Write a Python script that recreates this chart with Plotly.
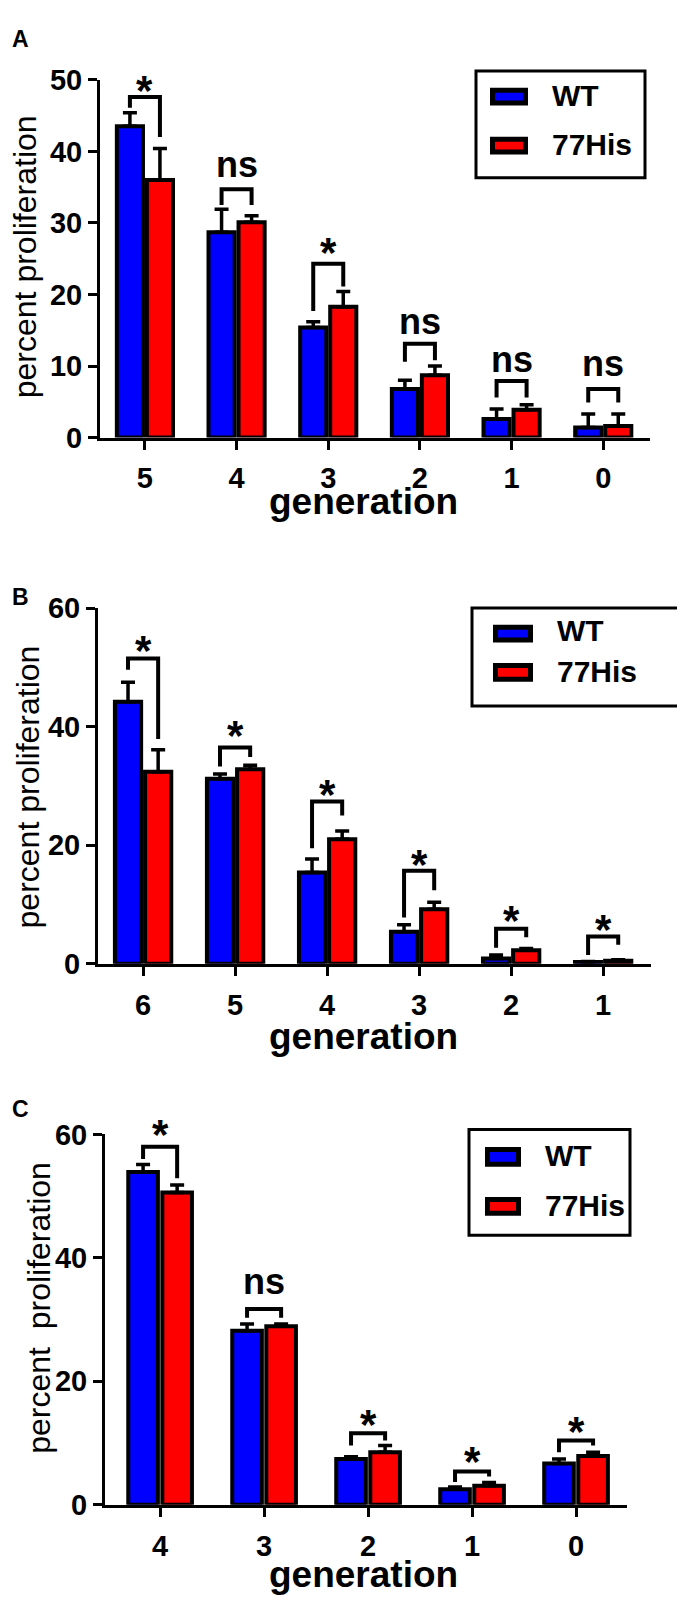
import plotly.graph_objects as go

# ---------------- data ----------------
gen_A = ["5", "4", "3", "2", "1", "0"]
wt_A = [43.5, 28.7, 15.4, 6.8, 2.6, 1.4]
wt_A_err = [1.9, 3.2, 0.8, 1.2, 1.4, 1.9]
his_A = [36.0, 30.1, 18.3, 8.7, 3.9, 1.6]
his_A_err = [4.4, 0.9, 2.1, 1.3, 0.7, 1.7]
sig_A = ["*", "ns", "*", "ns", "ns", "ns"]
brk_top_A = [47.6, 34.7, 24.3, 13.1, 7.9, 6.8]
brk_left_A = [46.1, 32.5, 17.7, 10.6, 5.6, 4.9]
brk_right_A = [42.0, 32.5, 21.1, 10.8, 5.6, 4.9]
sig_y_A = [49.8, 37.7, 27.2, 15.8, 10.4, 9.9]

gen_B = ["6", "5", "4", "3", "2", "1"]
wt_B = [44.2, 31.2, 15.4, 5.4, 0.9, 0.3]
wt_B_err = [3.3, 0.8, 2.3, 1.2, 0.6, 0.1]
his_B = [32.4, 32.8, 21.0, 9.2, 2.3, 0.5]
his_B_err = [3.7, 0.7, 1.4, 1.2, 0.3, 0.2]
sig_B = ["*", "*", "*", "*", "*", "*"]
brk_top_B = [51.5, 36.5, 27.4, 15.7, 5.9, 4.6]
brk_left_B = [49.6, 33.3, 19.5, 7.8, 2.7, 1.5]
brk_right_B = [37.9, 34.9, 25.0, 12.4, 4.5, 3.2]
sig_y_B = [54.4, 40.1, 30.2, 18.4, 8.9, 7.4]

gen_C = ["4", "3", "2", "1", "0"]
wt_C = [53.9, 28.2, 7.4, 2.5, 6.7]
wt_C_err = [1.2, 1.1, 0.4, 0.4, 0.7]
his_C = [50.6, 28.9, 8.5, 3.1, 7.9]
his_C_err = [1.2, 0.4, 1.1, 0.5, 0.6]
sig_C = ["*", "ns", "*", "*", "*"]
brk_top_C = [58.0, 31.7, 11.6, 5.4, 10.4]
brk_left_C = [56.0, 30.3, 9.6, 3.7, 8.5]
brk_right_C = [52.9, 30.3, 10.4, 4.6, 9.6]
sig_y_C = [61.6, 35.6, 14.6, 8.6, 13.5]

y_ticks_A = [0, 10, 20, 30, 40, 50]
y_ticks_BC = [0, 20, 40, 60]
series_names = ["WT", "77His"]
panel_letters = ["A", "B", "C"]

# ---------------- layout constants ----------------
W, H = 685, 1601
FONT = "Liberation Sans, Arial, sans-serif"
BLUE = "#0000FF"
RED = "#FF0000"
BARGAP = 0.345
GROUPGAP = 0.13
STAR_SIZE = 42
NS_SIZE = 36


def fx(px):
    return px / W


def fy(py):
    return 1 - py / H


panels = [
    dict(gen=gen_A, wt=wt_A, wte=wt_A_err, his=his_A, hise=his_A_err, sig=sig_A,
         top=brk_top_A, left=brk_left_A, right=brk_right_A, sy=sig_y_A,
         ymax=50, yt=y_ticks_A, xpx=(92, 642), ypx=(57, 422), xr=(-0.49, 5.51),
         letter_y=15, ytitle="percent proliferation", ytitle_x=17, ytitle_y=238,
         gen_y=487, legend=dict(box=(468, 48, 637, 157), sw_x=(482, 520),
                                sw_y=[(65, 83), (115, 133)], tx=542, ty=[73, 123])),
    dict(gen=gen_B, wt=wt_B, wte=wt_B_err, his=his_B, hise=his_B_err, sig=sig_B,
         top=brk_top_B, left=brk_left_B, right=brk_right_B, sy=sig_y_B,
         ymax=60, yt=y_ticks_BC, xpx=(90, 643), ypx=(596, 959), xr=(-0.49, 5.52),
         letter_y=585, ytitle="percent proliferation", ytitle_x=20, ytitle_y=779,
         gen_y=1033, legend=dict(box=(464, 596, 683, 696), sw_x=(485, 525),
                                 sw_y=[(613, 631), (652, 671)], tx=547, ty=[619, 661])),
    dict(gen=gen_C, wt=wt_C, wte=wt_C_err, his=his_C, hise=his_C_err, sig=sig_C,
         top=brk_top_C, left=brk_left_C, right=brk_right_C, sy=sig_y_C,
         ymax=60, yt=y_ticks_BC, xpx=(97, 619), ypx=(1133, 1511), xr=(-0.53, 4.49),
         letter_y=1107, ytitle="percent\u00a0\u00a0proliferation", ytitle_x=31, ytitle_y=1310,
         gen_y=1582, legend=dict(box=(461, 1128, 622, 1236), sw_x=(477, 513),
                                 sw_y=[(1146, 1166), (1197, 1216)], tx=535, ty=[1155, 1206])),
]

fig = go.Figure()
shapes = []
annotations = []
off = (1 - BARGAP) / 4

for i, p in enumerate(panels, start=1):
    xa = "x" if i == 1 else f"x{i}"
    ya = "y" if i == 1 else f"y{i}"
    n = len(p["gen"])
    xs = list(range(n))
    for name, vals, errs, col in [(series_names[0], p["wt"], p["wte"], BLUE),
                                  (series_names[1], p["his"], p["hise"], RED)]:
        fig.add_trace(go.Bar(
            x=xs, y=vals, name=name, showlegend=False,
            marker=dict(color=col, line=dict(color="black", width=4)),
            error_y=dict(type="data", symmetric=False, array=errs,
                         arrayminus=[0] * n, color="black", thickness=3.5, width=7),
            xaxis=xa, yaxis=ya,
        ))
    axkey = "" if i == 1 else str(i)
    fig.update_layout(**{
        f"xaxis{axkey}": dict(
            domain=[fx(p["xpx"][0]), fx(p["xpx"][1])], range=list(p["xr"]),
            anchor=ya, tickvals=xs, ticktext=p["gen"], showgrid=False, zeroline=False,
            showline=True, linecolor="black", linewidth=3, ticks="outside",
            ticklen=9, tickwidth=3, tickcolor="black", ticklabelstandoff=4,
            tickfont=dict(family=FONT, size=29, color="black", weight="bold"),
            fixedrange=True),
        f"yaxis{axkey}": dict(
            domain=[fy(p["ypx"][1]), fy(p["ypx"][0])], range=[0, p["ymax"]],
            anchor=xa, tickvals=p["yt"], showgrid=False, zeroline=False,
            showline=True, linecolor="black", linewidth=3, ticks="outside",
            ticklen=9, tickwidth=3, tickcolor="black",
            tickfont=dict(family=FONT, size=29, color="black", weight="bold"),
            fixedrange=True),
    })
    # short extension of the x axis line to the left of the y axis
    shapes.append(dict(type="line", xref=f"{xa} domain", yref=ya,
                       x0=-10 / (p["xpx"][1] - p["xpx"][0]), x1=0, y0=0, y1=0,
                       line=dict(color="black", width=3)))
    # significance brackets and labels
    for k in range(n):
        xl, xr_ = k - off, k + off
        path = (f"M {xl},{p['left'][k]} L {xl},{p['top'][k]} "
                f"L {xr_},{p['top'][k]} L {xr_},{p['right'][k]}")
        shapes.append(dict(type="path", path=path, xref=xa, yref=ya,
                           line=dict(color="black", width=4)))
        is_star = p["sig"][k] == "*"
        size = STAR_SIZE if is_star else NS_SIZE
        annotations.append(dict(
            x=k, y=p["sy"][k] / p["ymax"], xref=xa, yref=f"{ya} domain",
            text=p["sig"][k], showarrow=False,
            xanchor="center", yanchor="middle",
            yshift=-0.23 * size if is_star else 0.09 * size,
            font=dict(family=FONT, size=size, color="black", weight="bold")))
    # panel letter
    annotations.append(dict(x=fx(2), y=fy(p["letter_y"]), xref="paper", yref="paper",
                            text=panel_letters[i - 1], showarrow=False,
                            xanchor="left", yanchor="middle",
                            font=dict(family=FONT, size=23, color="black", weight="bold")))
    # y title
    annotations.append(dict(x=fx(p["ytitle_x"]), y=fy(p["ytitle_y"]), xref="paper",
                            yref="paper", text=p["ytitle"], textangle=-90, showarrow=False,
                            xanchor="center", yanchor="middle",
                            font=dict(family=FONT, size=32, color="black")))
    # x title
    annotations.append(dict(x=fx(355), y=fy(p["gen_y"]), xref="paper", yref="paper",
                            text="generation", showarrow=False,
                            xanchor="center", yanchor="middle",
                            font=dict(family=FONT, size=37, color="black", weight="bold")))
    # legend (drawn box)
    lg = p["legend"]
    bx0, by0, bx1, by1 = lg["box"]
    shapes.append(dict(type="rect", xref="paper", yref="paper",
                       x0=fx(bx0), x1=fx(bx1), y0=fy(by1), y1=fy(by0),
                       line=dict(color="black", width=3), fillcolor="rgba(0,0,0,0)"))
    for j, col in enumerate([BLUE, RED]):
        sy0, sy1 = lg["sw_y"][j]
        shapes.append(dict(type="rect", xref="paper", yref="paper",
                           x0=fx(lg["sw_x"][0] + 2.5), x1=fx(lg["sw_x"][1] - 2.5),
                           y0=fy(sy1 - 2.5), y1=fy(sy0 + 2.5),
                           line=dict(color="black", width=5), fillcolor=col))
        annotations.append(dict(x=fx(lg["tx"]), y=fy(lg["ty"][j]), xref="paper",
                                yref="paper", text=series_names[j], showarrow=False,
                                xanchor="left", yanchor="middle",
                                font=dict(family=FONT, size=30, color="black",
                                          weight="bold")))

fig.update_layout(
    width=W, height=H, margin=dict(l=0, r=0, t=0, b=0),
    paper_bgcolor="white", plot_bgcolor="white",
    barmode="group", bargap=BARGAP, bargroupgap=GROUPGAP,
    shapes=shapes, annotations=annotations, showlegend=False,
)

fig.write_html("out.html")
